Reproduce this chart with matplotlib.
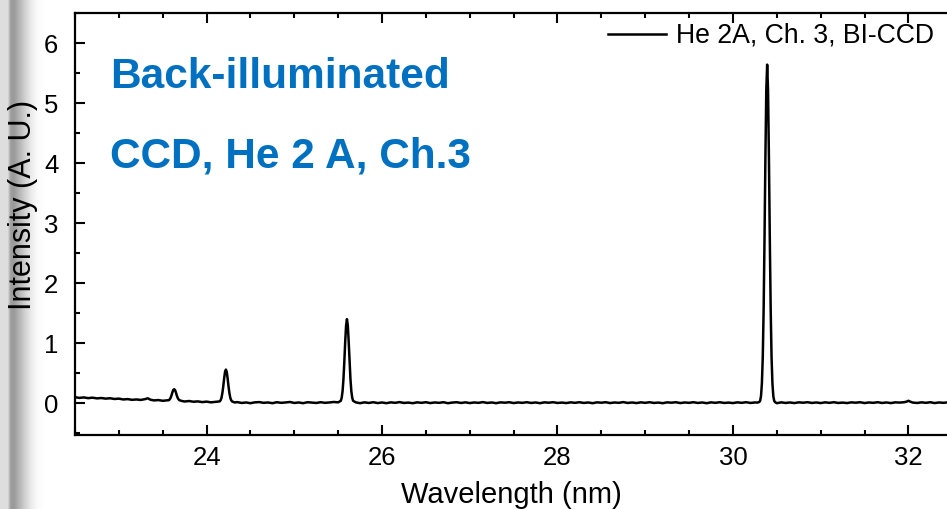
import numpy as np
import matplotlib
matplotlib.use("Agg")
import matplotlib.pyplot as plt
from matplotlib.ticker import MultipleLocator

plt.rcParams['font.family'] = ['Liberation Sans', 'DejaVu Sans']

# ---- data ----
wavelength_nm = [
    22.50, 22.55, 22.60, 22.65, 22.70, 22.75, 22.80, 22.85, 22.90, 22.95,
    23.00, 23.05, 23.10, 23.15, 23.20, 23.25, 23.30, 23.33, 23.36, 23.40,
    23.45, 23.50, 23.55, 23.57, 23.58, 23.59, 23.60, 23.61, 23.62, 23.63,
    23.64, 23.65, 23.66, 23.67, 23.68, 23.69, 23.72, 23.75, 23.80, 23.85,
    23.90, 23.95, 24.00, 24.05, 24.10, 24.15, 24.16, 24.17, 24.18, 24.19,
    24.20, 24.21, 24.22, 24.23, 24.24, 24.25, 24.26, 24.27, 24.28, 24.29,
    24.32, 24.35, 24.40, 24.45, 24.50, 24.55, 24.60, 24.65, 24.70, 24.75,
    24.80, 24.85, 24.90, 24.95, 25.00, 25.05, 25.10, 25.15, 25.20, 25.25,
    25.30, 25.35, 25.40, 25.45, 25.50, 25.53, 25.54, 25.55, 25.56, 25.57,
    25.58, 25.59, 25.60, 25.61, 25.62, 25.63, 25.64, 25.65, 25.66, 25.67,
    25.70, 25.75, 25.80, 25.85, 25.90, 25.95, 26.00, 26.05, 26.10, 26.15,
    26.20, 26.25, 26.30, 26.35, 26.40, 26.45, 26.50, 26.55, 26.60, 26.65,
    26.70, 26.75, 26.80, 26.85, 26.90, 26.95, 27.00, 27.05, 27.10, 27.15,
    27.20, 27.25, 27.30, 27.35, 27.40, 27.45, 27.50, 27.55, 27.60, 27.65,
    27.70, 27.75, 27.80, 27.85, 27.90, 27.95, 28.00, 28.05, 28.10, 28.15,
    28.20, 28.25, 28.30, 28.35, 28.40, 28.45, 28.50, 28.55, 28.60, 28.65,
    28.70, 28.75, 28.80, 28.85, 28.90, 28.95, 29.00, 29.05, 29.10, 29.15,
    29.20, 29.25, 29.30, 29.35, 29.40, 29.45, 29.50, 29.55, 29.60, 29.65,
    29.70, 29.75, 29.80, 29.85, 29.90, 29.95, 30.00, 30.05, 30.10, 30.15,
    30.20, 30.25, 30.28, 30.30, 30.31, 30.32, 30.33, 30.34, 30.35, 30.36,
    30.37, 30.38, 30.39, 30.40, 30.41, 30.42, 30.43, 30.44, 30.45, 30.46,
    30.47, 30.48, 30.50, 30.55, 30.60, 30.65, 30.70, 30.75, 30.80, 30.85,
    30.90, 30.95, 31.00, 31.05, 31.10, 31.15, 31.20, 31.25, 31.30, 31.35,
    31.40, 31.45, 31.50, 31.55, 31.60, 31.65, 31.70, 31.75, 31.80, 31.85,
    31.90, 31.95, 31.98, 32.00, 32.02, 32.05, 32.10, 32.15, 32.20, 32.25,
    32.30, 32.35, 32.40, 32.45,
]

intensity_au = [
    0.100, 0.088, 0.096, 0.084, 0.092, 0.080, 0.086, 0.076, 0.082, 0.070,
    0.076, 0.062, 0.068, 0.056, 0.062, 0.054, 0.068, 0.082, 0.058, 0.046,
    0.052, 0.040, 0.046, 0.050, 0.065, 0.090, 0.130, 0.180, 0.220, 0.232,
    0.220, 0.180, 0.130, 0.090, 0.065, 0.050, 0.036, 0.028, 0.036, 0.024,
    0.030, 0.018, 0.026, 0.014, 0.022, 0.030, 0.050, 0.090, 0.170, 0.280,
    0.410, 0.520, 0.560, 0.520, 0.410, 0.280, 0.170, 0.090, 0.050, 0.030,
    0.012, 0.018, 0.004, 0.012, 0.000, 0.014, 0.018, 0.006, 0.012, 0.000,
    0.016, 0.006, 0.012, 0.020, 0.004, 0.012, 0.000, 0.016, 0.010, 0.004,
    0.016, 0.006, 0.012, 0.020, 0.014, 0.040, 0.090, 0.200, 0.400, 0.690,
    1.020, 1.290, 1.400, 1.290, 1.020, 0.690, 0.400, 0.200, 0.090, 0.040,
    0.014, 0.000, 0.014, 0.004, 0.016, 0.002, 0.012, 0.000, 0.014, 0.006,
    0.018, 0.004, 0.010, 0.000, 0.014, 0.006, 0.016, 0.002, 0.012, 0.006,
    0.016, 0.000, 0.010, 0.016, 0.004, 0.014, 0.002, 0.012, 0.006, 0.018,
    0.004, 0.012, 0.000, 0.014, 0.008, 0.016, 0.002, 0.012, 0.006, 0.016,
    0.004, 0.012, 0.000, 0.014, 0.008, 0.016, 0.004, 0.010, 0.002, 0.014,
    0.006, 0.016, 0.004, 0.012, 0.000, 0.014, 0.008, 0.016, 0.002, 0.012,
    0.006, 0.018, 0.004, 0.012, 0.002, 0.014, 0.006, 0.016, 0.004, 0.010,
    0.000, 0.014, 0.008, 0.016, 0.002, 0.012, 0.006, 0.016, 0.004, 0.012,
    0.000, 0.014, 0.006, 0.016, 0.004, 0.010, 0.002, 0.014, 0.006, 0.016,
    0.004, 0.012, 0.010, 0.020, 0.040, 0.120, 0.330, 0.770, 1.580, 2.750,
    4.100, 5.210, 5.640, 5.210, 4.100, 2.750, 1.580, 0.770, 0.330, 0.120,
    0.040, 0.018, 0.000, 0.014, 0.004, 0.012, 0.002, 0.014, 0.008, 0.016,
    0.004, 0.012, 0.002, 0.014, 0.006, 0.016, 0.004, 0.010, 0.002, 0.014,
    0.008, 0.016, 0.002, 0.012, 0.006, 0.016, 0.004, 0.012, 0.002, 0.014,
    0.010, 0.016, 0.026, 0.040, 0.026, 0.010, 0.004, 0.014, 0.006, 0.016,
    0.002, 0.012, 0.006, 0.014,
]

series_label = "He 2A, Ch. 3, BI-CCD"
xlabel_text = "Wavelength (nm)"
ylabel_text = "Intensity (A. U.)"
annotation_lines = ["Back-illuminated", "CCD, He 2 A, Ch.3"]
x_major_ticks = [24, 26, 28, 30, 32]
y_major_ticks = [0, 1, 2, 3, 4, 5, 6]

W, H = 947, 509
fig = plt.figure(figsize=(W / 100, H / 100), dpi=100)
fig.patch.set_facecolor("white")

# decorative grey slide edge on the left
gax = fig.add_axes([0, 0, 45 / W, 1])
px = np.arange(45)
prof = np.interp(px, [0, 7, 8, 10, 13, 18, 24, 30, 36, 44],
                 [0.87, 0.87, 0.80, 0.62, 0.60, 0.70, 0.82, 0.92, 0.98, 1.0])
gax.imshow(np.tile(prof, (2, 1)), cmap="gray", vmin=0, vmax=1,
           aspect="auto", extent=[0, 1, 0, 1], interpolation="bilinear")
gax.set_axis_off()

ax = fig.add_axes([75 / W, 1 - 435 / H, 1 - 75 / W, (435 - 13) / H])
ax.plot(wavelength_nm, intensity_au, color="black", lw=1.8, label=series_label)

ax.set_xlim(22.5, 32.44)
ax.set_ylim(-0.53, 6.5)
ax.set_xticks(x_major_ticks)
ax.set_yticks(y_major_ticks)
ax.xaxis.set_minor_locator(MultipleLocator(0.5))
ax.yaxis.set_minor_locator(MultipleLocator(0.5))
ax.tick_params(which="both", direction="in", top=True, right=False,
               width=1.5, labelsize=18.5)
ax.tick_params(which="major", length=7)
ax.tick_params(which="minor", length=3.5)
ax.tick_params(axis="x", which="major", pad=8)
ax.tick_params(axis="y", which="major", pad=12)
for s in ["left", "bottom", "top"]:
    ax.spines[s].set_linewidth(1.6)
ax.spines["right"].set_visible(False)

ax.set_xlabel(xlabel_text, fontsize=21, labelpad=8)
ax.set_ylabel(ylabel_text, fontsize=22)
ax.yaxis.set_label_coords((38 - 75) / (W - 75), (435 - 205) / (435 - 13))

leg = ax.legend(loc="upper right", bbox_to_anchor=(1.0, 1.008), frameon=False,
                fontsize=19.2, handlelength=2.2, handletextpad=0.35,
                borderaxespad=0.1)

blue = "#0070C0"
fig.text(110 / W, 1 - 88 / H, annotation_lines[0], color=blue,
         fontsize=30.5, fontweight="bold", va="baseline", ha="left")
fig.text(110 / W, 1 - 168 / H, annotation_lines[1], color=blue,
         fontsize=30.5, fontweight="bold", va="baseline", ha="left")

fig.savefig("out.png", dpi=100)
